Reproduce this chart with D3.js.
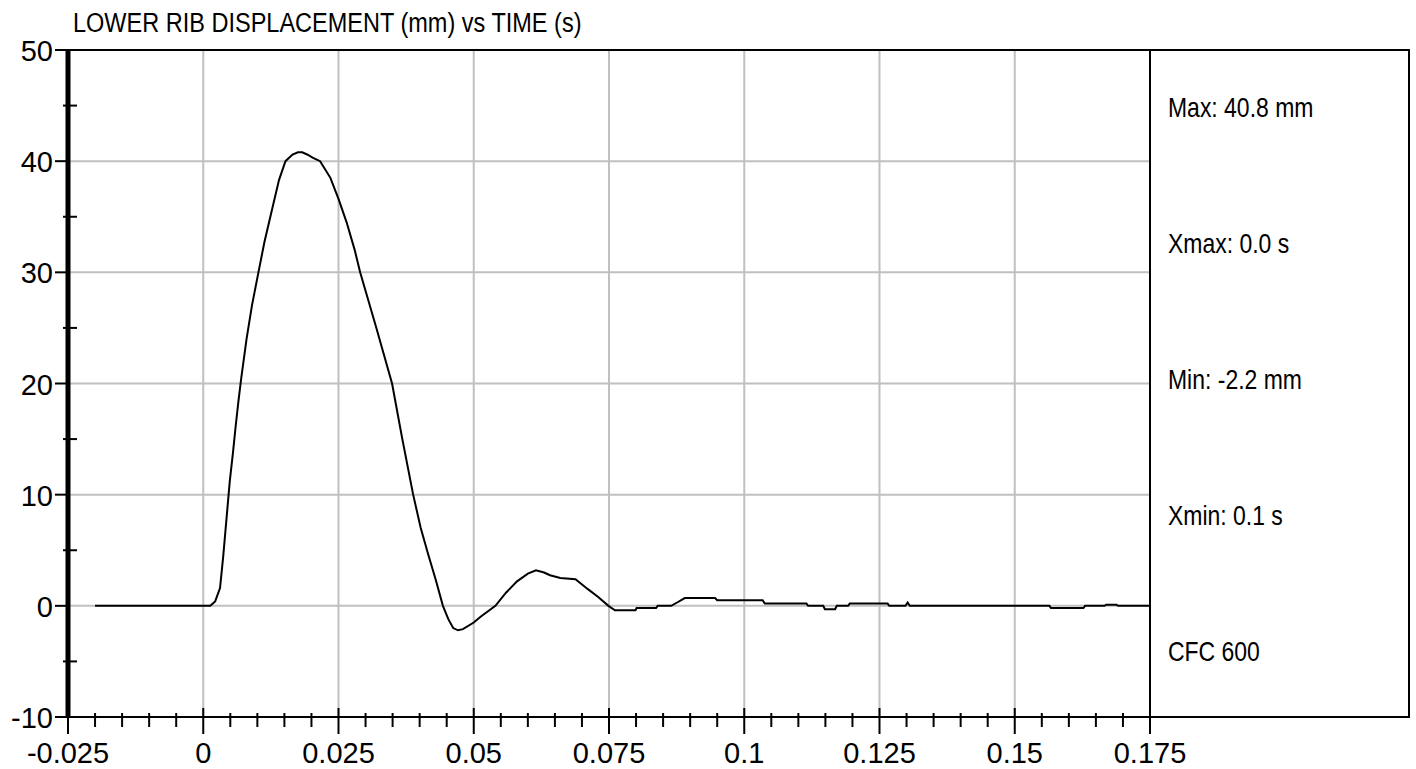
<!DOCTYPE html>
<html>
<head>
<meta charset="utf-8">
<script src="https://cdn.jsdelivr.net/npm/d3@7"></script>
<style>
  body { margin: 0; background: #fff; }
  svg { display: block; }
  text { font-family: "Liberation Sans", Arial, sans-serif; fill: #000; }
</style>
</head>
<body>
<div id="chart"></div>
<script>
// tempo (s) e spostamento costola (mm)
const timeS = [-0.02, 0.0013, 0.0022, 0.0031, 0.0037, 0.0044, 0.0049, 0.0055, 0.0060, 0.0065,
  0.0070, 0.0080, 0.0090, 0.0102, 0.0113, 0.0124, 0.0140, 0.0152, 0.0165, 0.0175,
  0.0183, 0.0192, 0.0203, 0.0216, 0.0235, 0.0250, 0.0265, 0.0280, 0.0290, 0.0320,
  0.0349, 0.0368, 0.0388, 0.0402, 0.0416, 0.0430, 0.0443, 0.0453, 0.0462, 0.0471,
  0.0480, 0.0500, 0.0512, 0.0540, 0.0560, 0.0580, 0.0600, 0.0615, 0.0630, 0.0641,
  0.0660, 0.0688, 0.0711, 0.0730, 0.0749, 0.0761, 0.0799, 0.0801, 0.0837, 0.0840,
  0.0865, 0.0876, 0.0890, 0.0946, 0.0950, 0.1034, 0.1038, 0.1115, 0.1118, 0.1146,
  0.1149, 0.1168, 0.1171, 0.1192, 0.1195, 0.1265, 0.1268, 0.1298, 0.1302, 0.1306,
  0.1564, 0.1567, 0.1627, 0.1630, 0.1666, 0.1669, 0.1688, 0.1691, 0.175];
const dispMm = [0, 0, 0.4, 1.6, 4.5, 8.4, 11.2, 13.8, 16.2, 18.4,
  20.4, 24, 27, 30, 32.7, 35, 38.3, 40, 40.6, 40.8,
  40.8, 40.6, 40.3, 40, 38.5, 36.6, 34.5, 32, 30, 25,
  20, 15, 10, 7, 4.6, 2.3, 0, -1.2, -2.0, -2.2,
  -2.1, -1.5, -1.0, 0, 1.2, 2.2, 2.9, 3.2, 3.0, 2.75,
  2.5, 2.4, 1.5, 0.8, 0, -0.4, -0.4, -0.2, -0.2, 0,
  0, 0.3, 0.7, 0.7, 0.5, 0.5, 0.2, 0.2, 0, 0,
  -0.3, -0.3, 0, 0, 0.2, 0.2, 0, 0, 0.3, 0,
  0, -0.2, -0.2, 0, 0, 0.1, 0.1, 0, 0];

const xMajor = [-0.025, 0, 0.025, 0.05, 0.075, 0.1, 0.125, 0.15, 0.175];
const xMajorLabels = ["-0.025", "0", "0.025", "0.05", "0.075", "0.1", "0.125", "0.15", "0.175"];
const yMajor = [-10, 0, 10, 20, 30, 40, 50];
const yMinor = [-5, 5, 15, 25, 35, 45];
const infoLabels = ["Max: 40.8 mm", "Xmax: 0.0 s", "Min: -2.2 mm", "Xmin: 0.1 s", "CFC 600"];
const titleText = "LOWER RIB DISPLACEMENT (mm) vs TIME (s)";

const W = 1416, H = 769;
const plot = { left: 68, right: 1150, top: 50, bottom: 717, panelRight: 1409 };

const svg = d3.select("#chart").append("svg").attr("width", W).attr("height", H);

const x = d3.scaleLinear().domain([-0.025, 0.175]).range([plot.left, plot.right]);
const y = d3.scaleLinear().domain([-10, 50]).range([plot.bottom, plot.top]);

// minor ticks dell'asse x ogni 0.005
const xMinor = d3.range(-0.025, 0.1751, 0.005).filter(v => Math.abs(Math.round(v / 0.025) * 0.025 - v) > 1e-6);

// griglia grigia
svg.append("g").selectAll("line")
  .data(xMajor.slice(1, -1))
  .join("line")
  .attr("x1", d => x(d)).attr("x2", d => x(d))
  .attr("y1", plot.top).attr("y2", plot.bottom)
  .attr("stroke", "#c0c0c0").attr("stroke-width", 2);

svg.append("g").selectAll("line")
  .data(yMajor.slice(1, -1))
  .join("line")
  .attr("x1", plot.left).attr("x2", plot.right)
  .attr("y1", d => y(d)).attr("y2", d => y(d))
  .attr("stroke", "#c0c0c0").attr("stroke-width", 2);

// cornice
const frame = svg.append("g").attr("stroke", "#000").attr("stroke-width", 2);
frame.append("line").attr("x1", plot.left).attr("x2", plot.panelRight + 1).attr("y1", plot.top).attr("y2", plot.top);
frame.append("line").attr("x1", 55).attr("x2", plot.panelRight + 1).attr("y1", plot.bottom).attr("y2", plot.bottom);
frame.append("line").attr("x1", plot.right).attr("x2", plot.right).attr("y1", plot.top).attr("y2", plot.bottom);
frame.append("line").attr("x1", plot.panelRight).attr("x2", plot.panelRight).attr("y1", plot.top).attr("y2", plot.bottom);
frame.append("line").attr("x1", plot.left).attr("x2", plot.left).attr("y1", plot.top).attr("y2", plot.bottom)
  .attr("stroke-width", 5);

// tick asse x
svg.append("g").selectAll("line")
  .data(xMajor)
  .join("line")
  .attr("x1", d => x(d)).attr("x2", d => x(d))
  .attr("y1", 708).attr("y2", 734)
  .attr("stroke", "#000").attr("stroke-width", 2);

svg.append("g").selectAll("line")
  .data(xMinor)
  .join("line")
  .attr("x1", d => x(d)).attr("x2", d => x(d))
  .attr("y1", 713).attr("y2", 727)
  .attr("stroke", "#000").attr("stroke-width", 2);

// tick asse y
svg.append("g").selectAll("line")
  .data(yMajor)
  .join("line")
  .attr("x1", 55).attr("x2", plot.left)
  .attr("y1", d => y(d)).attr("y2", d => y(d))
  .attr("stroke", "#000").attr("stroke-width", 2);

svg.append("g").selectAll("line")
  .data(yMinor)
  .join("line")
  .attr("x1", 63).attr("x2", 77)
  .attr("y1", d => y(d)).attr("y2", d => y(d))
  .attr("stroke", "#000").attr("stroke-width", 2);

// etichette
svg.append("g").selectAll("text")
  .data(xMajor)
  .join("text")
  .attr("x", d => x(d))
  .attr("y", 763)
  .attr("text-anchor", "middle")
  .style("font-size", "29px")
  .text((d, i) => xMajorLabels[i]);

svg.append("g").selectAll("text")
  .data(yMajor)
  .join("text")
  .attr("x", 53)
  .attr("y", d => y(d) + 11)
  .attr("text-anchor", "end")
  .style("font-size", "29px")
  .text(d => d);

// titolo (font stretto)
svg.append("text")
  .attr("transform", "translate(73,32) scale(0.84,1)")
  .style("font-size", "28px")
  .text(titleText);

// pannello a destra
svg.append("g").selectAll("text")
  .data(infoLabels)
  .join("text")
  .attr("transform", (d, i) => `translate(1168,${117 + i * 136}) scale(0.82,1)`)
  .style("font-size", "28px")
  .text(d => d);

// curva
const line = d3.line()
  .x(d => x(d[0]))
  .y(d => y(d[1]));

svg.append("path")
  .datum(timeS.map((t, i) => [t, dispMm[i]]))
  .attr("fill", "none")
  .attr("stroke", "#000")
  .attr("stroke-width", 2)
  .attr("d", line);
</script>
</body>
</html>
